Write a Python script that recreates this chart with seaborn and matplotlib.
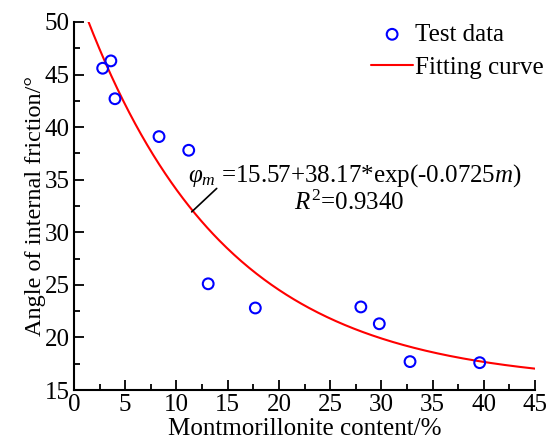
import numpy as np
import pandas as pd
import seaborn as sns
import matplotlib
matplotlib.use("Agg")
import matplotlib.pyplot as plt
from matplotlib.ticker import MultipleLocator

# Measured montmorillonite content (%) and angle of internal friction (deg)
content = [2.8, 3.6, 4.0, 8.3, 11.2, 13.1, 17.7, 28.0, 29.8, 32.8, 39.6]
friction = [45.6, 46.3, 42.7, 39.1, 37.8, 25.1, 22.8, 22.9, 21.3, 17.7, 17.6]

# Exponential fit: phi = a + b*exp(c*m)
fit_a, fit_b, fit_c = 15.57, 38.17, -0.0725
fit_r2 = 0.9340
fit_range = (1.3, 45.0)

sns.set_style("ticks")
plt.rcParams["font.family"] = ["Liberation Serif", "DejaVu Serif"]
plt.rcParams["mathtext.fontset"] = "custom"
plt.rcParams["mathtext.rm"] = "Liberation Serif"
plt.rcParams["mathtext.it"] = "Liberation Serif:italic"
plt.rcParams["text.color"] = "black"
plt.rcParams["axes.labelcolor"] = "black"
plt.rcParams["axes.edgecolor"] = "black"
plt.rcParams["xtick.color"] = "black"
plt.rcParams["ytick.color"] = "black"

FS = 18

fig = plt.figure(figsize=(5.55, 4.44), dpi=100)
ax = fig.add_axes([0.1333, 0.1216, 0.8307, 0.8289])

pts = pd.DataFrame({"m": content, "phi": friction})
m_curve = np.linspace(fit_range[0], fit_range[1], 300)
curve = pd.DataFrame({"m": m_curve, "phi": fit_a + fit_b * np.exp(fit_c * m_curve)})

sns.lineplot(data=curve, x="m", y="phi", ax=ax, color="#ff0000", lw=1.5,
             label="Fitting curve", zorder=2)
sns.scatterplot(data=pts, x="m", y="phi", ax=ax, marker="o", s=60,
                facecolor="none", edgecolor="#0000ff", linewidth=1.5,
                label="Test data", zorder=3)

ax.set_xlim(0, 45)
ax.set_ylim(15, 50)
ax.xaxis.set_major_locator(MultipleLocator(5))
ax.xaxis.set_minor_locator(MultipleLocator(2.5))
ax.yaxis.set_major_locator(MultipleLocator(5))
ax.yaxis.set_minor_locator(MultipleLocator(2.5))
ax.tick_params(which="both", direction="in", width=1.3, labelsize=FS, pad=3)
ax.tick_params(which="major", length=7)
ax.tick_params(which="minor", length=4)
for side in ("left", "bottom"):
    ax.spines[side].set_linewidth(1.5)
sns.despine(ax=ax)

ax.set_xlabel("Montmorillonite content/%", fontsize=FS, labelpad=1)
ax.set_ylabel("Angle of internal friction/\u00b0", fontsize=17.5, labelpad=-1)

# Fit equation with leader line to the curve
ax.plot([11.49, 13.93], [31.94, 34.17], color="black", lw=1.2)
ax.text(11.13, 34.78,
        r"$\varphi_m$ =15.57+38.17*exp(-0.0725$m$)",
        fontsize=FS, ha="left", va="baseline")
ax.text(26.9, 32.12, r"$R^{\mathrm{2}}$=%.4f" % fit_r2,
        fontsize=FS, ha="center", va="baseline")

handles, labels = ax.get_legend_handles_labels()
order = [labels.index("Test data"), labels.index("Fitting curve")]
ax.legend([handles[i] for i in order], [labels[i] for i in order],
          loc="upper right", bbox_to_anchor=(1.052, 1.037), frameon=False,
          fontsize=FS, handlelength=1.65, handletextpad=0.1, labelspacing=0.42,
          borderaxespad=0.2)

fig.savefig("out.png", dpi=100)
